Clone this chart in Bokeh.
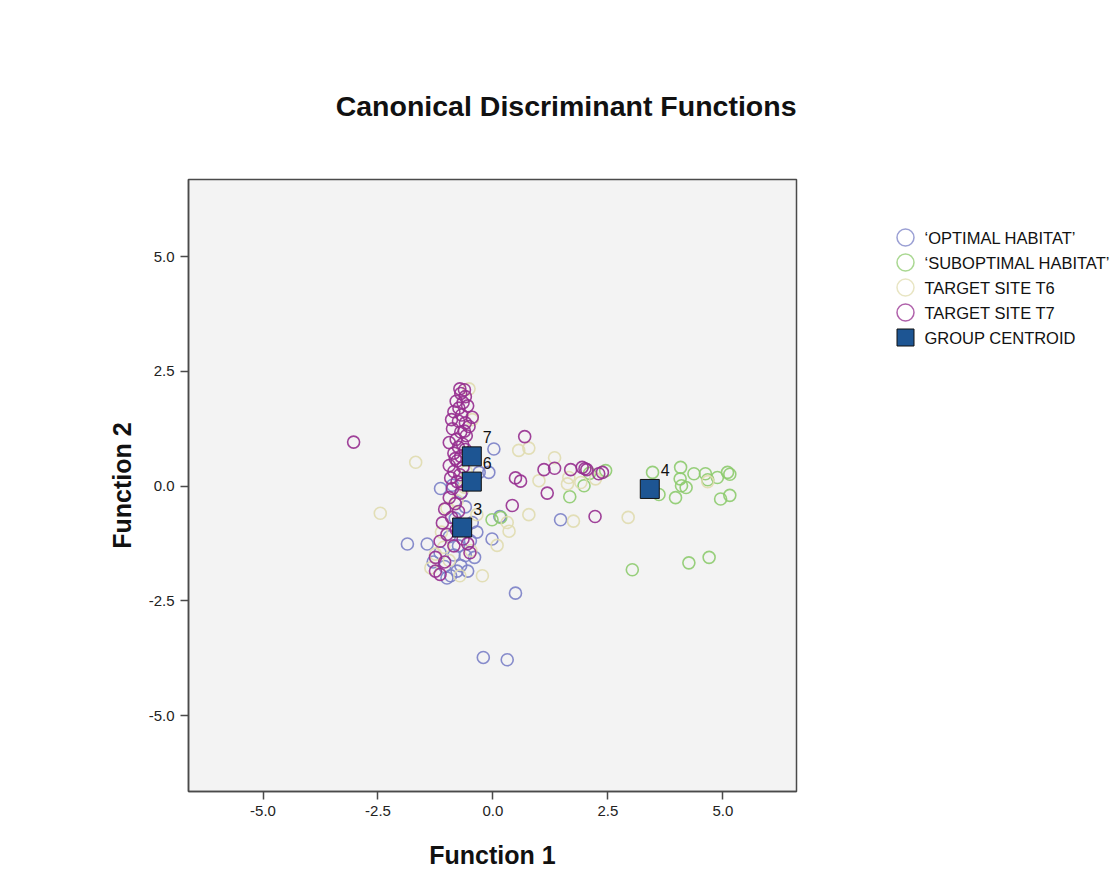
from bokeh.plotting import figure
from bokeh.layouts import row
from bokeh.models import Range1d, FixedTicker
from bokeh.core.properties import value
from bokeh.embed import file_html
from bokeh.resources import INLINE

# Discriminant scores (Function 1, Function 2) per group
optimal_x = [-1.86, 0.02, -0.09, -0.02, 0.15, 1.47, 0.49, -0.21, 0.31,
             -0.92, -0.70, -0.60, -1.43, -0.45, -0.49, -1.05, -0.85, -0.75,
             -1.15, -0.55, -1.30, -0.40, -0.95, -0.88, -0.68, -0.30, -0.60,
             -0.82, -0.35, -1.00, -0.78, -1.14]
optimal_y = [-1.26, 0.81, 0.30, -1.15, -0.66, -0.73, -2.33, -3.73, -3.78,
             -1.95, -1.73, -1.51, -1.26, -0.79, -1.19, -1.75, -1.50, -1.30,
             -1.45, -1.85, -1.65, -1.55, -1.10, 0.02, -0.12, 0.30, -0.45,
             -0.70, -1.00, -2.00, -1.85, -0.05]

subopt_x = [-0.02, 0.17, 1.67, 1.98, 2.10, 2.45, 3.03, 4.26, 4.70, 3.47,
            3.61, 4.08, 4.07, 4.10, 4.20, 3.97, 4.37, 4.62, 4.67, 4.88,
            5.10, 5.15, 4.95, 5.15]
subopt_y = [-0.73, -0.68, -0.23, 0.01, 0.28, 0.34, -1.82, -1.67, -1.55, 0.30,
            -0.18, 0.41, 0.16, 0.01, -0.03, -0.25, 0.27, 0.27, 0.14, 0.19,
            0.30, 0.26, -0.28, -0.20]

t6_x = [-1.68, -2.45, 0.56, 0.78, 1.00, 0.78, 0.31, 0.35, 0.09, -0.23,
        1.34, 1.65, 1.62, 1.91, 2.23, 1.75, 2.94, 4.67, -0.52, -0.45,
        -0.58, -1.07, -0.95, -1.25, -0.48, -0.78, -1.00, -0.35, -0.62,
        -1.12, -0.72, -1.35]
t6_y = [0.52, -0.59, 0.78, 0.83, 0.12, -0.62, -0.79, -0.98, -1.29, -1.95,
        0.62, 0.19, 0.05, 0.08, 0.16, -0.76, -0.68, 0.10, 2.12, 1.45,
        0.32, -1.33, -1.62, -1.48, -1.40, -0.32, -0.48, -0.62, -0.02,
        -1.00, -1.95, -1.78]

t7_x = [-0.72, -0.62, -0.70, -0.80, -0.65, -0.55, -0.85, -0.68, -0.45,
        -0.75, -0.60, -0.52, -0.88, -0.70, -0.58, -0.80, -0.95, -0.66,
        -0.75, -0.60, -0.85, -0.70, -0.78, -0.95, -0.65, -0.85, -0.72,
        -0.92, -0.78, -0.88, -0.70, -0.95, -0.82, -1.05, -0.75, -0.90,
        -1.10, -0.80, -1.00, -0.65, -1.15, -0.85, -1.25, -1.05, -1.25,
        -1.15, -0.55, -0.50, -0.60, -0.90, -0.62, -0.82, -0.74, -0.68,
        -3.03, 0.69, 0.49, 0.60, 1.11, 1.34, 1.69, 1.94, 2.04, 2.30,
        2.38, 1.18, 0.42, 2.22, 2.00]
t7_y = [2.12, 2.10, 2.02, 1.85, 1.82, 1.75, 1.62, 1.55, 1.50,
        1.42, 1.38, 1.30, 1.25, 1.18, 1.10, 1.02, 0.95, 0.92,
        0.85, 0.80, 0.72, 0.65, 0.55, 0.45, 0.42, 0.32, 0.25,
        0.18, 0.10, -0.05, -0.15, -0.25, -0.38, -0.50, -0.55, -0.68,
        -0.80, -0.95, -1.05, -1.15, -1.20, -1.30, -1.55, -1.65, -1.85,
        -1.92, -1.25, -1.45, 1.95, 1.45, 1.20, 0.60, 1.70, 0.05,
        0.96, 1.08, 0.18, 0.11, 0.36, 0.39, 0.36, 0.41, 0.36, 0.27,
        0.30, -0.15, -0.42, -0.66, 0.38]

centroid_x = [-0.46, -0.46, -0.67, 3.41]
centroid_y = [0.65, 0.10, -0.90, -0.06]
centroid_labels = ["7", "6", "3", "4"]

group_names = ["\u2018OPTIMAL HABITAT\u2019", "\u2018SUBOPTIMAL HABITAT\u2019",
               "TARGET SITE T6", "TARGET SITE T7"]
group_colors = ["#7a80c6", "#8dcb6e", "#e0dcaf", "#962d8f"]
centroid_name = "GROUP CENTROID"
centroid_fill = "#1d5593"

tick_values = [-5.0, -2.5, 0.0, 2.5, 5.0]
tick_labels = ["-5.0", "-2.5", "0.0", "2.5", "5.0"]

FONT = "Liberation Sans"
HEIGHT = 877
BORDER_TOP, BORDER_BOTTOM = 179, 86

# ---- scatter plot -------------------------------------------------------
p = figure(width=880, height=HEIGHT, output_backend="svg", toolbar_location=None,
           x_range=Range1d(-6.62, 6.60), y_range=Range1d(-6.65, 6.68),
           min_border_left=188, min_border_right=84,
           min_border_top=BORDER_TOP, min_border_bottom=BORDER_BOTTOM)

p.background_fill_color = "#f3f3f3"
p.border_fill_color = "white"
p.outline_line_color = "#4a4a4a"
p.outline_line_width = 1.5
p.xgrid.visible = False
p.ygrid.visible = False

p.title.text = "Canonical Discriminant Functions"
p.title.align = "right"
p.title.text_font = FONT
p.title.text_font_size = "28.5px"
p.title.text_font_style = "bold"
p.title.text_color = "#111111"
p.title.standoff = 115

for ax in (p.xaxis[0], p.yaxis[0]):
    ax.ticker = FixedTicker(ticks=tick_values)
    ax.major_label_overrides = dict(zip(tick_values, tick_labels))
    ax.minor_tick_line_color = None
    ax.major_tick_in = 0
    ax.major_tick_out = 8
    ax.major_tick_line_color = "#4a4a4a"
    ax.major_tick_line_width = 1.5
    ax.axis_line_color = "#4a4a4a"
    ax.axis_line_width = 1.5
    ax.major_label_text_font = FONT
    ax.major_label_text_font_size = "15px"
    ax.major_label_text_color = "#222222"
    ax.axis_label_text_font = FONT
    ax.axis_label_text_font_size = "25px"
    ax.axis_label_text_font_style = "bold"
    ax.axis_label_text_color = "#111111"

p.xaxis.axis_label = "Function 1"
p.yaxis.axis_label = "Function 2"
p.xaxis.major_label_standoff = 6
p.xaxis.axis_label_standoff = 22
p.yaxis.major_label_standoff = 6
p.yaxis.axis_label_standoff = 10

series = [(optimal_x, optimal_y), (subopt_x, subopt_y), (t6_x, t6_y), (t7_x, t7_y)]
for (xs, ys), color in zip(series, group_colors):
    p.scatter(xs, ys, marker="circle", size=12, fill_color=None,
              line_color=color, line_width=1.6, line_alpha=0.9)

p.scatter(centroid_x, centroid_y, marker="square", size=19,
          fill_color=centroid_fill, line_color="#111111", line_width=1)

p.text(centroid_x, centroid_y, text=centroid_labels, x_offset=11, y_offset=-19,
       text_font=value(FONT), text_font_size="16px", text_color="#111111",
       text_align="left", text_baseline="middle")

# ---- legend panel ---------------------------------------------------------
# The row aligns this panel's frame with the scatter plot's frame, so its
# y range is expressed in page pixels (downwards) over the same span.
lg = figure(width=239, height=HEIGHT, output_backend="svg", toolbar_location=None,
            x_range=Range1d(0, 239),
            y_range=Range1d(HEIGHT - BORDER_BOTTOM, BORDER_TOP),
            min_border_left=0, min_border_right=0,
            min_border_top=BORDER_TOP, min_border_bottom=BORDER_BOTTOM,
            x_axis_type=None, y_axis_type=None)
lg.outline_line_color = None
lg.background_fill_color = "white"
lg.border_fill_color = "white"
lg.xgrid.visible = False
lg.ygrid.visible = False

row_top, row_step, sw_x, text_x = 237, 25, 25, 44
names = group_names + [centroid_name]
ys_leg = [row_top + row_step * i for i in range(len(names))]

lg.scatter([sw_x] * len(group_names), ys_leg[:len(group_names)], marker="circle",
           size=17, fill_color=None, line_color=group_colors, line_width=1.5,
           line_alpha=0.75)
lg.scatter([sw_x], [ys_leg[-1]], marker="square", size=17,
           fill_color=centroid_fill, line_color="#111111", line_width=1)
lg.text([text_x] * len(names), ys_leg, text=names,
        text_font=value(FONT), text_font_size="16.5px", text_color="#111111",
        text_align="left", text_baseline="middle")

layout = row(p, lg, spacing=0)
open("out.html", "w").write(file_html(layout, INLINE))
